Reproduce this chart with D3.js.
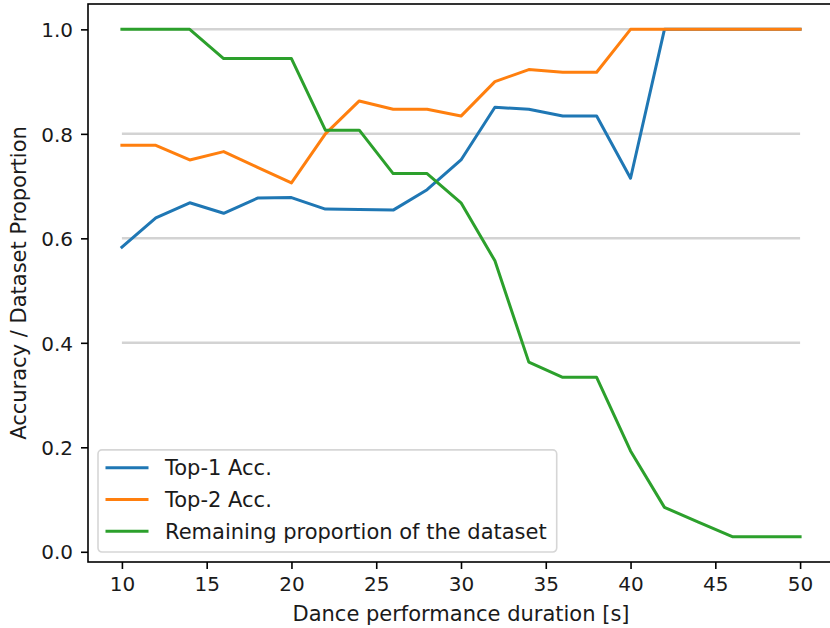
<!DOCTYPE html>
<html>
<head>
<meta charset="utf-8">
<script src="https://cdn.jsdelivr.net/npm/d3@7"></script>
<style>
  body { margin: 0; background: white; }
  text { font-family: 'DejaVu Sans', sans-serif; fill: #1a1a1a; }
</style>
</head>
<body>
<script>
/* DATA */
var durations = [10, 12, 14, 16, 18, 20, 22, 24, 26, 28, 30, 32, 34, 36, 38, 40, 42, 44, 46, 48, 50];
var top1Acc = [0.583, 0.639, 0.668, 0.648, 0.677, 0.678, 0.656, 0.655, 0.654, 0.693, 0.750, 0.851, 0.847, 0.834, 0.834, 0.715, 1.0, 1.0, 1.0, 1.0, 1.0];
var top2Acc = [0.778, 0.778, 0.750, 0.766, 0.736, 0.706, 0.800, 0.863, 0.847, 0.847, 0.834, 0.900, 0.923, 0.918, 0.918, 1.0, 1.0, 1.0, 1.0, 1.0, 1.0];
var remaining = [1.0, 1.0, 1.0, 0.944, 0.944, 0.944, 0.807, 0.807, 0.724, 0.724, 0.668, 0.557, 0.363, 0.334, 0.334, 0.193, 0.085, 0.057, 0.029, 0.029, 0.029];

var seriesNames = ['Top-1 Acc.', 'Top-2 Acc.', 'Remaining proportion of the dataset'];
var seriesColors = ['#1f77b4', '#ff7f0e', '#2ca02c'];
var gridValues = [0.4, 0.6, 0.8, 1.0];
var xTickValues = [10, 15, 20, 25, 30, 35, 40, 45, 50];
var yTickValues = [0.0, 0.2, 0.4, 0.6, 0.8, 1.0];

var xLabel = 'Dance performance duration [s]';
var yLabel = 'Accuracy / Dataset Proportion';

/* SETUP */
var width = 830;
var height = 628;
var tickFontSize = 20;
var labelFontSize = 21;
var plot = { left: 88, right: 834, top: 4, bottom: 562 };

var series = [top1Acc, top2Acc, remaining].map((vals, i) => ({
    name: seriesNames[i],
    color: seriesColors[i],
    points: durations.map((d, j) => [d, vals[j]])
}));

// matplotlib style 5% margins
var xExtent = d3.extent(durations);
var xPad = (xExtent[1] - xExtent[0]) * 0.05;
var allY = top1Acc.concat(top2Acc, remaining);
var yExtent = d3.extent(allY);
var yPad = (yExtent[1] - yExtent[0]) * 0.05;

const x = d3.scaleLinear()
    .domain([xExtent[0] - xPad, xExtent[1] + xPad])
    .range([plot.left, plot.right]);

const y = d3.scaleLinear()
    .domain([yExtent[0] - yPad, yExtent[1] + yPad])
    .range([plot.bottom, plot.top]);

const svg = d3.select('body').append('svg')
    .attr('width', width)
    .attr('height', height);

svg.append('rect')
    .attr('width', width)
    .attr('height', height)
    .attr('fill', 'white');

/* GRID LINES (hlines from first to last duration) */
svg.append('g').selectAll('line')
    .data(gridValues)
    .join('line')
    .attr('x1', x(xExtent[0]))
    .attr('x2', x(xExtent[1]))
    .attr('y1', d => y(d))
    .attr('y2', d => y(d))
    .attr('stroke', 'lightgray')
    .attr('stroke-width', 2.5);

/* LINES */
const lineGen = d3.line()
    .x(d => x(d[0]))
    .y(d => y(d[1]));

svg.append('g').selectAll('path')
    .data(series)
    .join('path')
    .attr('d', d => lineGen(d.points))
    .attr('fill', 'none')
    .attr('stroke', d => d.color)
    .attr('stroke-width', 3)
    .attr('stroke-linejoin', 'round')
    .attr('stroke-linecap', 'square');

/* AXES */
const xAxis = svg.append('g')
    .attr('transform', `translate(0, ${plot.bottom})`)
    .call(d3.axisBottom(x).tickValues(xTickValues).tickSize(7).tickPadding(7).tickSizeOuter(0));

const yAxis = svg.append('g')
    .attr('transform', `translate(${plot.left}, 0)`)
    .call(d3.axisLeft(y).tickValues(yTickValues).tickFormat(d3.format('.1f')).tickSize(7).tickPadding(8).tickSizeOuter(0));

[xAxis, yAxis].forEach(ax => {
    ax.select('.domain').remove();
    ax.selectAll('.tick line').attr('stroke', 'black').attr('stroke-width', 1.6);
    ax.selectAll('.tick text')
        .style('font-family', "'DejaVu Sans', sans-serif")
        .style('font-size', tickFontSize + 'px')
        .attr('fill', '#1a1a1a');
});
yAxis.selectAll('.tick text').attr('dy', '0.36em');
xAxis.selectAll('.tick text').attr('dy', '0.76em');

// spines (right one falls just outside the picture)
svg.append('rect')
    .attr('x', plot.left)
    .attr('y', plot.top)
    .attr('width', plot.right - plot.left)
    .attr('height', plot.bottom - plot.top)
    .attr('fill', 'none')
    .attr('stroke', 'black')
    .attr('stroke-width', 1.6);

/* AXIS LABELS */
svg.append('text')
    .attr('x', (plot.left + plot.right) / 2)
    .attr('y', 621)
    .attr('text-anchor', 'middle')
    .style('font-size', labelFontSize + 'px')
    .text(xLabel);

svg.append('text')
    .attr('transform', `translate(26, ${(plot.top + plot.bottom) / 2}) rotate(-90)`)
    .attr('text-anchor', 'middle')
    .style('font-size', labelFontSize + 'px')
    .text(yLabel);

/* LEGEND */
var legendRow = 31.7;
const legend = svg.append('g')
    .attr('transform', `translate(${plot.left + 10}, ${plot.bottom - 10})`);

const legendBox = legend.append('rect')
    .attr('rx', 4)
    .attr('fill', 'white')
    .attr('fill-opacity', 0.8)
    .attr('stroke', '#d6d6d6')
    .attr('stroke-width', 1.6);

const legendItems = legend.selectAll('g.item')
    .data(series)
    .join('g')
    .attr('class', 'item')
    .attr('transform', (d, i) => `translate(0, ${-(series.length - i) * legendRow + legendRow / 2 - 5})`);

legendItems.append('line')
    .attr('x1', 9)
    .attr('x2', 49)
    .attr('stroke', d => d.color)
    .attr('stroke-width', 3)
    .attr('stroke-linecap', 'square');

legendItems.append('text')
    .attr('x', 67)
    .attr('dy', '0.36em')
    .style('font-size', labelFontSize + 'px')
    .text(d => d.name);

var textW = d3.max(legendItems.selectAll('text').nodes(), n => n.getComputedTextLength());
var boxH = series.length * legendRow + 7;
legendBox
    .attr('x', 0)
    .attr('y', -boxH)
    .attr('width', 67 + textW + 10)
    .attr('height', boxH);
</script>
</body>
</html>
